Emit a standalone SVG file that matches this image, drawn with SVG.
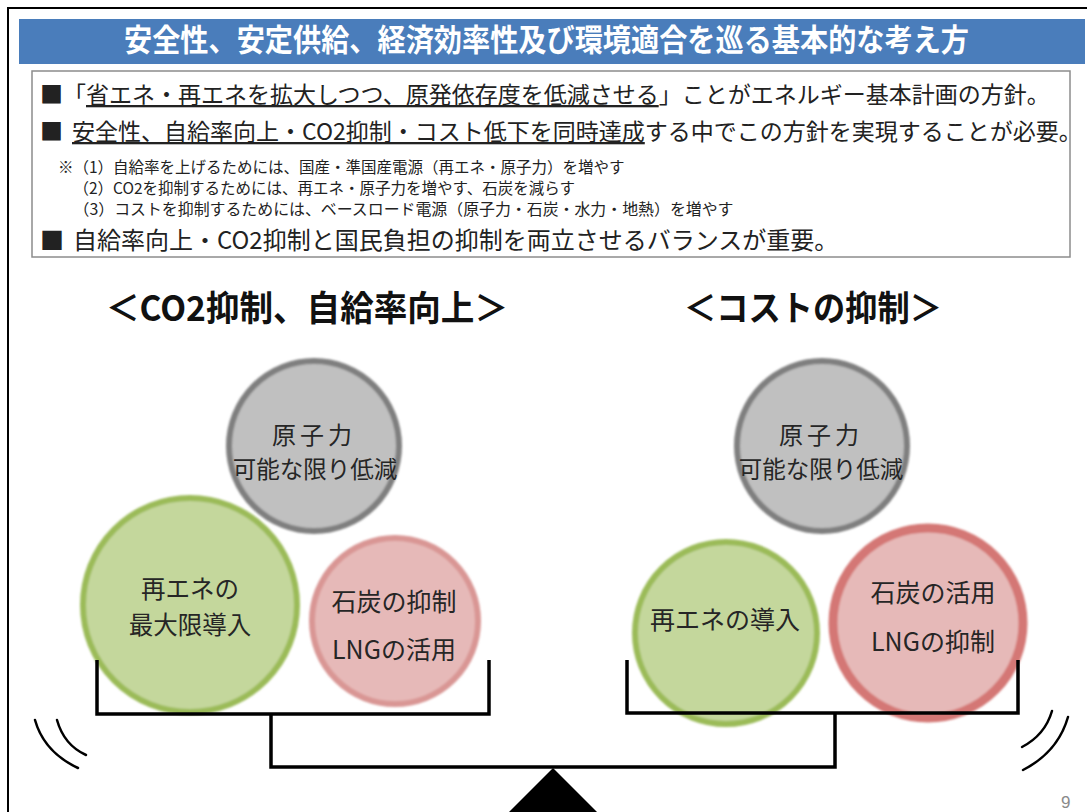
<svg xmlns="http://www.w3.org/2000/svg" width="1087" height="812" viewBox="0 0 1087 812">
<defs>
<style>
text{font-family:"Noto Sans CJK JP","Noto Sans CJK SC",sans-serif;}
.title{fill:#fff;font-size:31px;font-weight:bold;}
.t1{fill:#222;font-size:23px;}
.t2{fill:#222;font-size:15.5px;}
.u{text-decoration:underline;}
.sub{fill:#111;font-size:35px;font-weight:bold;}
.ct{fill:#262626;font-size:25px;text-anchor:middle;}
.beam{fill:none;stroke:#000;stroke-width:3.5;stroke-linejoin:miter;}
.mark{fill:none;stroke:#000;stroke-width:2.5;stroke-linecap:round;}
.gray{fill:#c0c0c0;stroke:#7f7f7f;stroke-width:6;}
.green{fill:#c4d79c;stroke:#9bbb59;stroke-width:6;}
.pink{fill:#e6b9b8;stroke:#d99694;stroke-width:6;}
.pink2{fill:#e6b9b8;stroke:#d47775;stroke-width:9;}
</style>
<filter id="soft" x="-10%" y="-10%" width="120%" height="120%"><feGaussianBlur stdDeviation="1.2"/></filter>
</defs>
<rect width="1087" height="812" fill="#fff"/>
<path d="M8,812 V8 H1087" fill="none" stroke="#000" stroke-width="2"/>
<g id="title">
<rect x="19" y="19" width="1066" height="45" fill="#4a7dbb"/>
<text class="title" x="124" y="51" textLength="845" lengthAdjust="spacingAndGlyphs">安全性、安定供給、経済効率性及び環境適合を巡る基本的な考え方</text>
</g>
<g id="notes">
<rect x="32" y="71" width="1038" height="186" fill="#fff" stroke="#8c8c8c" stroke-width="1.5"/>
<text class="t1" x="40" y="103">■「<tspan class="u">省エネ・再エネを拡大しつつ、原発依存度を低減させる</tspan>」ことがエネルギー基本計画の方針。</text>
<text class="t1" x="40" y="140">■<tspan dx="9" class="u">安全性、自給率向上・CO2抑制・コスト低下を同時達成</tspan>する中でこの方針を実現することが必要。</text>
<text class="t2" x="58" y="173">※（1）自給率を上げるためには、国産・準国産電源（再エネ・原子力）を増やす</text>
<text class="t2" x="73.5" y="194">（2）CO2を抑制するためには、再エネ・原子力を増やす、石炭を減らす</text>
<text class="t2" x="73.5" y="215" textLength="660" lengthAdjust="spacingAndGlyphs">（3）コストを抑制するためには、ベースロード電源（原子力・石炭・水力・地熱）を増やす</text>
<text class="t1" x="40" y="249" style="font-size:24px">■<tspan dx="9">自給率向上・CO2抑制と国民負担の抑制を両立させるバランスが重要。</tspan></text>
</g>
<g id="heading-left"><text class="sub" x="106" y="321" textLength="402" lengthAdjust="spacingAndGlyphs">＜CO2抑制、自給率向上＞</text></g>
<g id="heading-right"><text class="sub" x="684" y="321" textLength="258" lengthAdjust="spacingAndGlyphs">＜コストの抑制＞</text></g>
<g id="left-nuclear">
<circle class="gray" cx="314" cy="446" r="85" filter="url(#soft)"/>
<text class="ct" x="314" y="444" letter-spacing="4" style="font-size:24px">原子力</text>
<text class="ct" x="315" y="478" style="font-size:23.5px">可能な限り低減</text>
</g>
<g id="left-renew">
<circle class="green" cx="190" cy="605" r="107" filter="url(#soft)"/>
<text class="ct" x="190" y="598" style="font-size:24.5px">再エネの</text>
<text class="ct" x="190" y="634" style="font-size:24.5px">最大限導入</text>
</g>
<g id="left-coal">
<circle class="pink" cx="395" cy="621" r="83" filter="url(#soft)"/>
<text class="ct" x="394" y="611">石炭の抑制</text>
<text class="ct" x="394" y="659">LNGの活用</text>
</g>
<g id="right-nuclear">
<circle class="gray" cx="822" cy="446" r="85" filter="url(#soft)"/>
<text class="ct" x="821" y="444" letter-spacing="4" style="font-size:24px">原子力</text>
<text class="ct" x="821" y="478" style="font-size:23.5px">可能な限り低減</text>
</g>
<g id="right-renew">
<circle class="green" cx="726" cy="633" r="91" filter="url(#soft)"/>
<text class="ct" x="725" y="629">再エネの導入</text>
</g>
<g id="right-coal">
<circle class="pink2" cx="928" cy="623" r="95" filter="url(#soft)"/>
<text class="ct" x="933" y="602">石炭の活用</text>
<text class="ct" x="933" y="651">LNGの抑制</text>
</g>
<g id="balance">
<path class="beam" d="M97,660 V714 H489 V660"/>
<path class="beam" d="M627,660 V713 H1018 V660"/>
<path class="beam" d="M271,714 V767 H835 V713"/>
<polygon points="553,768 507,814 599,814" fill="#000"/>
<path class="mark" d="M35,720 Q44,752 78,768"/>
<path class="mark" d="M57,720 Q64,745 86,755"/>
<path class="mark" d="M1068,717 Q1058,752 1023,770"/>
<path class="mark" d="M1052,711 Q1045,735 1022,747"/>
</g>
<text x="1061" y="808" style="font-size:17px;fill:#8a8a8a;font-family:'Liberation Sans',sans-serif">9</text>
</svg>
